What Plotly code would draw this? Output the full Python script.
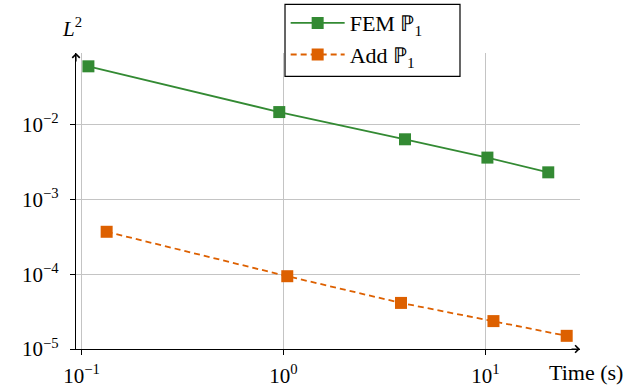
import plotly.graph_objects as go

# Error in L2 norm versus computation time (log-log)
fem_time = [0.108, 0.953, 4.0, 10.24, 20.5]
fem_err = [0.0601, 0.0147, 0.00636, 0.00362, 0.0023]

add_time = [0.133, 1.044, 3.82, 10.97, 25.3]
add_err = [3.69e-4, 9.4e-5, 4.13e-5, 2.36e-5, 1.50e-5]

x_tickvals = [0.1, 1, 10]
x_ticktext = ["10<sup>\u22121</sup>", "10<sup>0</sup>", "10<sup>1</sup>"]
y_tickvals = [1e-5, 1e-4, 1e-3, 1e-2]
y_ticktext = ["10<sup>\u22125</sup>", "10<sup>\u22124</sup>", "10<sup>\u22123</sup>", "10<sup>\u22122</sup>"]

GREEN = "#338a33"
ORANGE = "#dd6000"
FONT = "'Liberation Serif', 'Times New Roman', Times, serif"

fig = go.Figure()
fig.add_trace(go.Scatter(
    x=fem_time, y=fem_err, mode="lines+markers", name="FEM \u2119<sub>1</sub>",
    line=dict(color=GREEN, width=1.8),
    marker=dict(symbol="square", size=12, color=GREEN),
))
fig.add_trace(go.Scatter(
    x=add_time, y=add_err, mode="lines+markers", name="Add \u2119<sub>1</sub>",
    line=dict(color=ORANGE, width=1.8, dash="6px,4px"),
    marker=dict(symbol="square", size=12, color=ORANGE),
))

axis_common = dict(
    type="log", showgrid=True, gridcolor="#c4c4c4", gridwidth=1,
    showline=True, linecolor="black", linewidth=1.2,
    ticks="outside", ticklen=5, tickcolor="black", tickwidth=1,
    zeroline=False, automargin=False,
    tickfont=dict(family=FONT, size=21, color="black"),
)

fig.update_xaxes(range=[-1.028, 1.469], tickvals=x_tickvals, ticktext=x_ticktext,
                 ticklabelstandoff=3, **axis_common)
fig.update_yaxes(range=[-5.0, -1.043], tickvals=y_tickvals, ticktext=y_ticktext,
                 ticklabelstandoff=7, **axis_common)

# Arrow heads at the ends of both axes
fig.add_annotation(xref="paper", yref="paper", x=1.0, y=0.0, ax=-10, ay=0,
                   showarrow=True, arrowhead=4, arrowsize=1.2, arrowwidth=1.2,
                   arrowcolor="black", text="")
fig.add_annotation(xref="paper", yref="paper", x=0.0, y=1.0, ax=0, ay=10,
                   showarrow=True, arrowhead=4, arrowsize=1.2, arrowwidth=1.2,
                   arrowcolor="black", text="")

# Axis titles placed at the arrow ends
fig.add_annotation(xref="paper", yref="paper", x=-0.008, y=1.035,
                   xanchor="center", yanchor="bottom", showarrow=False,
                   text="<i>L</i><sup>2</sup>", font=dict(family=FONT, size=21, color="black"))
fig.add_annotation(xref="paper", yref="paper", x=1.09, y=-0.03,
                   xanchor="right", yanchor="top", showarrow=False,
                   text="Time (s)", font=dict(family=FONT, size=22, color="black"))

# Legend frame, a bit wider than plotly's auto-sized box
fig.add_shape(type="rect", xref="paper", yref="paper",
              x0=0.4147, x1=0.7619, y0=0.921, y1=1.1645,
              line=dict(color="black", width=1.2), fillcolor="white", layer="above")

fig.update_layout(
    width=628, height=389,
    margin=dict(l=76, r=48, t=53, b=40, autoexpand=False),
    plot_bgcolor="white", paper_bgcolor="white",
    legend=dict(
        x=0.416, y=1.172, xanchor="left", yanchor="top",
        borderwidth=0, bgcolor="rgba(0,0,0,0)",
        itemwidth=54,
        font=dict(family=FONT, size=22, color="black"),
    ),
    showlegend=True,
)

fig.write_html("out.html")
